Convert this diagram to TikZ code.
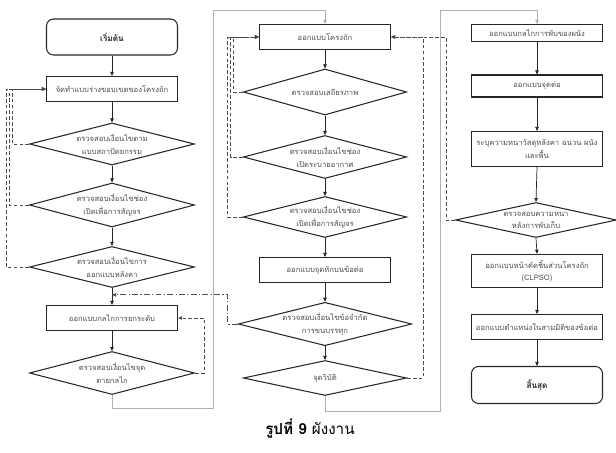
\documentclass[tikz,border=0pt]{standalone}
\usepackage{fontspec}
\newfontfamily\thaifont[Script=Thai]{Loma}
\usetikzlibrary{shapes.geometric, arrows.meta, calc}

\begin{document}
\begin{tikzpicture}[
		x=0.03cm, y=-0.03cm,
		>={Triangle[length=3.5pt,width=3pt]},
		txt/.style={font=\thaifont\fontsize{6.5}{10.5}\selectfont, text=black!70, align=center},
		box/.style={txt, draw=black!85, line width=0.9pt, minimum width=3.93cm, minimum height=0.75cm, inner sep=1pt},
		term/.style={box, rounded corners=6pt, text=black!85, font=\thaifont\bfseries\fontsize{7}{10}\selectfont},
		check/.style={txt, diamond, shape aspect=4, draw=black!85, line width=0.9pt, minimum width=4.95cm, inner sep=0pt},
		flow/.style={->, black!85, line width=0.6pt},
		link/.style={->, gray!60, line width=0.8pt},
		fb/.style={->, black!70, dash pattern=on 3pt off 2pt, line width=0.8pt}
		]
		\useasboundingbox (0,0) rectangle (616,453);
		
		% ==========================================
		% 1. COLUMN ONE
		% ==========================================
		\node[term, minimum height=1.08cm] (start) at (112,37) {เริ่มต้น};
		\node[box] (c1b1) at (112,89) {จัดทำแบบร่างขอบเขตของโครงถัก};
		% Data format: name / centre y / height / text
		\foreach \n/\y/\h/\t in {
			c1d1/144/1.26/{ตรวจสอบเงื่อนไขตาม\\แบบสถาปัตยกรรม},
			c1d2/205/1.32/{ตรวจสอบเงื่อนไขช่อง\\เปิดเพื่อการสัญจร},
			c1d3/267/1.23/{ตรวจสอบเงื่อนไขการ\\ออกแบบหลังคา},
			c1d4/373/1.29/{ตรวจสอบเงื่อนไขจุด\\ตายกลไก}%
		} {
			\node[check, minimum height=\h cm] (\n) at (112,\y) {\t};
		}
		\node[box] (c1b2) at (112,318) {ออกแบบกลไกการยกระดับ};
		
		% ==========================================
		% 2. COLUMN TWO
		% ==========================================
		\node[box] (c2b1) at (325,37) {ออกแบบโครงถัก};
		\foreach \n/\y/\h/\t in {
			c2d1/92/1.38/{ตรวจสอบเสถียรภาพ},
			c2d2/157/1.29/{ตรวจสอบเงื่อนไขช่อง\\เปิดระบายอากาศ},
			c2d3/217/1.23/{ตรวจสอบเงื่อนไขช่อง\\เปิดเพื่อการสัญจร},
			c2d4/324/1.05/{ตรวจสอบเงื่อนไขข้อจำกัด\\การขนบรรทุก},
			c2d5/378/1.05/{จุดวิบัติ}%
		} {
			\node[check, minimum width=4.9cm, minimum height=\h cm] (\n) at (325,\y) {\t};
		}
		\node[box] (c2b2) at (325,270) {ออกแบบจุดหักบนข้อต่อ};
		
		% ==========================================
		% 3. COLUMN THREE
		% ==========================================
		\node[box, minimum height=0.51cm] (c3b1) at (537,33) {ออกแบบกลไกการพับของผนัง};
		\node[box, minimum height=0.66cm] (c3b2) at (537,86) {ออกแบบจุดต่อ};
		\node[box, minimum height=1.05cm] (c3b3) at (537,149) {ระบุความหนาวัสดุหลังคา ฉนวน ผนัง\\และพื้น};
		\node[check, minimum width=4.83cm, minimum height=1.05cm] (c3d1) at (536,220) {ตรวจสอบความหนา\\หลังการพับเก็บ};
		\node[box, minimum height=1cm] (c3b4) at (537,271) {ออกแบบหน้าตัดชิ้นส่วนโครงถัก\\(CLPSO)};
		\node[box] (c3b5) at (537,327) {ออกแบบตำแหน่งในสามมิติของข้อต่อ};
		\node[term, minimum height=1.11cm] (end) at (537,385) {สิ้นสุด};
		
		% ==========================================
		% 4. MAIN FLOW
		% ==========================================
		\foreach \a/\b in {start/c1b1, c1b1/c1d1, c1d1/c1d2, c1d2/c1d3, c1d3/c1b2, c1b2/c1d4,
			c2b1/c2d1, c2d1/c2d2, c2d2/c2d3, c2d3/c2b2, c2b2/c2d4, c2d4/c2d5,
			c3b1/c3b2, c3b2/c3b3, c3b3/c3d1, c3d1/c3b4, c3b4/c3b5, c3b5/end} {
			\draw[flow] (\a.south) -- (\b.north);
		}
		% Links between the columns
		\coordinate (link1) at (213,10);
		\coordinate (link2) at (440,10);
		\draw[link] (c1d4.south) -- ++(0,13) -| (link1) -| (c2b1.north);
		\draw[link] (c2d5.south) -- ++(0,15) -| (link2) -| (c3b1.north);
		
		% ==========================================
		% 5. FEEDBACK LOOPS
		% ==========================================
		\foreach \d/\off in {c1d1/17, c1d2/20, c1d3/23} {
			\draw[fb] (\d.west) -- ++(-\off,0) |- (c1b1.west);
		}
		\foreach \d/\off in {c2d1/9, c2d2/12, c2d3/15} {
			\draw[fb] (\d.west) -- ++(-\off,0) |- (c2b1.west);
		}
		\draw[fb] (c1d4.east) -- ++(9,0) |- (c1b2.east);
		\draw[fb] (c2d5.east) -- ++(16,0) |- (c2b1.east);
		\draw[fb] (c3d1.west) -- ++(-9,0) |- (c2b1.east);
		% Dash-dot return to column one
		\coordinate (j1) at ($(c1d3.south)!0.4!(c1b2.north)$);
		\draw[fb, dash pattern=on 5pt off 2pt on 1pt off 2pt] (c2d4.west) -- ++(-10,0) |- (j1);
		
		% Caption
		\node[font=\thaifont\fontsize{13}{15}\selectfont] (caption) at (310,429) {{\bfseries รูปที่ 9} ผังงาน};
		
	\end{tikzpicture}
\end{document}
